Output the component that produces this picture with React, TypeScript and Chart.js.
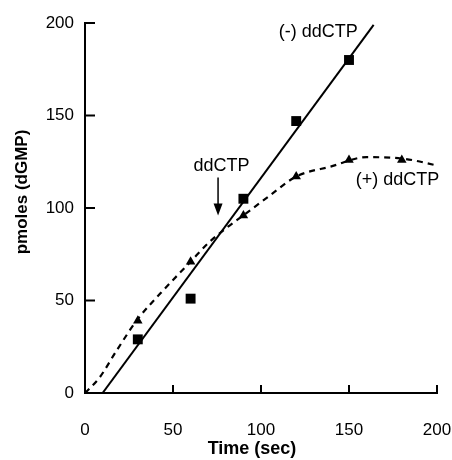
import React, { useEffect, useRef } from "react";
import { Chart, registerables } from "chart.js";

Chart.register(...registerables);

// (-) ddCTP measured points (squares)
const minusTime = [30, 60, 90, 120, 150];
const minusPmol = [29, 51, 105, 147, 180];
// (-) ddCTP fitted straight line end points
const fitTime = [10, 164];
const fitPmol = [0, 199];
// (+) ddCTP measured points (triangles)
const plusTime = [30, 60, 90, 120, 150, 180];
const plusPmol = [39, 71, 96, 117, 126, 126];
// (+) ddCTP dashed curve through the data
const curveTime = [0, 8, 18, 30, 43, 60, 70, 80, 90, 104, 120, 140, 160, 182, 200];
const curvePmol = [0, 8, 23, 40, 54, 71, 81, 89, 96, 106, 117, 122.5, 127.5, 126.5, 123];
// axis ticks
const xTicks = [0, 50, 100, 150, 200];
const yTicks = [0, 50, 100, 150, 200];

const FONT = "'Liberation Sans', Arial, Helvetica, sans-serif";

const toXY = (xs: number[], ys: number[]) => xs.map((x, i) => ({ x, y: ys[i] }));

const annotate = {
  id: "annotate",
  afterDraw(chart: any) {
    const { ctx, scales } = chart;
    const xs = scales.x;
    const ys = scales.y;
    const area = chart.chartArea;
    ctx.save();
    ctx.strokeStyle = "#000";
    ctx.fillStyle = "#000";
    ctx.lineWidth = 2;
    // inward tick marks
    yTicks.forEach((v) => {
      if (v === 0) return;
      const py = ys.getPixelForValue(v);
      ctx.beginPath();
      ctx.moveTo(area.left, py);
      ctx.lineTo(area.left + 10, py);
      ctx.stroke();
    });
    xTicks.forEach((v) => {
      if (v === 0) return;
      const px = xs.getPixelForValue(v);
      ctx.beginPath();
      ctx.moveTo(px, area.bottom);
      ctx.lineTo(px, area.bottom - 8);
      ctx.stroke();
    });
    // labels
    ctx.font = `18px ${FONT}`;
    ctx.textAlign = "center";
    ctx.textBaseline = "middle";
    ctx.fillText("(-) ddCTP", xs.getPixelForValue(132.5), ys.getPixelForValue(195));
    ctx.fillText("(+) ddCTP", xs.getPixelForValue(177.5), ys.getPixelForValue(115));
    ctx.fillText("ddCTP", xs.getPixelForValue(77.5), ys.getPixelForValue(122.5));
    // arrow
    const ax = xs.getPixelForValue(75.6);
    const ay1 = ys.getPixelForValue(116.5);
    const ay2 = ys.getPixelForValue(96);
    ctx.lineWidth = 1.5;
    ctx.beginPath();
    ctx.moveTo(ax, ay1);
    ctx.lineTo(ax, ay2 - 4);
    ctx.stroke();
    ctx.beginPath();
    ctx.moveTo(ax, ay2);
    ctx.lineTo(ax - 4.5, ay2 - 12);
    ctx.lineTo(ax + 4.5, ay2 - 12);
    ctx.closePath();
    ctx.fill();
    // axis titles
    ctx.font = `bold 18px ${FONT}`;
    ctx.fillText("Time (sec)", 252, 449);
    ctx.save();
    ctx.translate(22, 192);
    ctx.rotate(-Math.PI / 2);
    ctx.font = `bold 17px ${FONT}`;
    ctx.fillText("pmoles (dGMP)", 0, 0);
    ctx.restore();
    ctx.restore();
  },
};

export default function App() {
  const ref = useRef<HTMLCanvasElement>(null);
  useEffect(() => {
    if (!ref.current) return;
    const chart = new Chart(ref.current, {
      type: "scatter",
      data: {
        datasets: [
          {
            data: toXY(fitTime, fitPmol),
            showLine: true,
            borderColor: "#000",
            borderWidth: 2,
            pointRadius: 0,
          },
          {
            data: toXY(curveTime, curvePmol),
            showLine: true,
            borderColor: "#000",
            borderWidth: 2.2,
            borderDash: [6, 5],
            pointRadius: 0,
            cubicInterpolationMode: "monotone",
          },
          {
            data: toXY(minusTime, minusPmol),
            pointStyle: "rect",
            pointRadius: 7,
            backgroundColor: "#000",
            borderColor: "#000",
            borderWidth: 0,
          },
          {
            data: toXY(plusTime, plusPmol),
            pointStyle: "triangle",
            pointRadius: 5.5,
            backgroundColor: "#000",
            borderColor: "#000",
            borderWidth: 0,
          },
        ] as any,
      },
      options: {
        animation: false,
        responsive: false,
        events: [],
        layout: { padding: { left: 0, right: 15, top: 23, bottom: 0 } },
        plugins: { legend: { display: false }, tooltip: { enabled: false } },
        scales: {
          x: {
            type: "linear",
            min: 0,
            max: 200,
            afterFit: (s: any) => {
              s.height = 67;
              s.paddingLeft = 0;
              s.paddingRight = 0;
            },
            afterBuildTicks: (s: any) => {
              s.ticks = xTicks.map((v) => ({ value: v }));
            },
            grid: { display: false, drawTicks: false },
            border: { display: true, color: "#000", width: 2 },
            ticks: { color: "#000", padding: 27, font: { family: FONT, size: 17 } },
          },
          y: {
            type: "linear",
            min: 0,
            max: 200,
            afterFit: (s: any) => {
              s.width = 85;
              s.paddingTop = 0;
              s.paddingBottom = 0;
            },
            afterBuildTicks: (s: any) => {
              s.ticks = yTicks.map((v) => ({ value: v }));
            },
            grid: { display: false, drawTicks: false },
            border: { display: true, color: "#000", width: 2 },
            ticks: { color: "#000", padding: 11, font: { family: FONT, size: 17 } },
          },
        },
      },
      plugins: [annotate],
    });
    return () => chart.destroy();
  }, []);
  return (
    <div style={{ position: "fixed", left: 0, top: 0, width: 452, height: 460, background: "#fff" }}>
      <canvas ref={ref} width={452} height={460} />
    </div>
  );
}
